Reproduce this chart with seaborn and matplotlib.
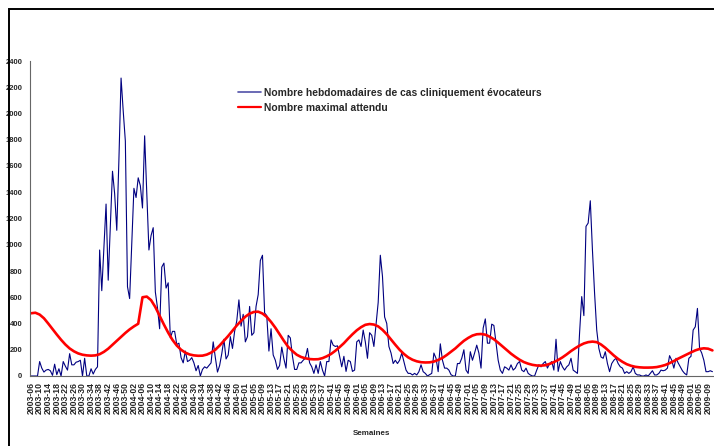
import matplotlib
matplotlib.use("Agg")
import matplotlib.pyplot as plt
from matplotlib.patches import Rectangle
import seaborn as sns
import pandas as pd

# ---- categories: ISO weeks 2003-06 .. 2009-11 ----
year_weeks = [(2003, 6, 52), (2004, 1, 53), (2005, 1, 52), (2006, 1, 52),
              (2007, 1, 52), (2008, 1, 52), (2009, 1, 11)]
weeks = [f"{y}-{w:02d}" for y, a, b in year_weeks for w in range(a, b + 1)]

# ---- weekly clinically suggestive cases ----
cases = [
    0, 0, 0, 0, 110, 60, 30, 45, 50, 40, 5, 90, 10, 55, 0, 110, 75, 45, 170, 85,
    85, 105, 110, 120, 0, 135, 0, 0, 55, 15, 50, 70, 960, 650, 980, 1310, 730, 1150, 1560, 1390,
    1110, 1650, 2270, 2020, 1790, 680, 590, 1000, 1430, 1360, 1510, 1450, 1280, 1830, 1400, 960, 1070, 1130, 640, 520,
    360, 830, 860, 670, 710, 290, 340, 340, 240, 250, 140, 100, 190, 110, 120, 140, 100, 40, 80, 0,
    50, 70, 60, 80, 100, 260, 140, 30, 80, 170, 280, 130, 160, 300, 210, 340, 420, 580, 380, 470,
    260, 300, 530, 310, 330, 530, 620, 880, 920, 480, 460, 190, 360, 160, 120, 50, 80, 220, 130, 60,
    310, 290, 150, 50, 50, 100, 100, 120, 135, 210, 100, 70, 20, 85, 20, 110, 45, 0, 110, 110,
    275, 235, 225, 230, 150, 70, 150, 35, 120, 110, 35, 45, 260, 275, 225, 350, 260, 135, 330, 310,
    225, 390, 560, 920, 760, 450, 400, 225, 175, 95, 120, 95, 120, 175, 110, 45, 20, 20, 8, 20,
    8, 33, 85, 33, 20, 0, 10, 20, 175, 135, 33, 245, 120, 60, 60, 45, 10, 0, 0, 95,
    95, 135, 200, 45, 20, 185, 120, 175, 235, 175, 60, 365, 435, 250, 250, 395, 385, 250, 120, 45,
    20, 70, 60, 45, 85, 45, 60, 95, 110, 45, 33, 60, 20, 8, 0, 0, 45, 85, 70, 95,
    110, 60, 95, 110, 45, 280, 35, 110, 70, 45, 70, 85, 135, 45, 33, 20, 330, 605, 460, 1140,
    1165, 1335, 960, 630, 350, 210, 145, 135, 185, 95, 33, 95, 120, 135, 95, 70, 60, 20, 33, 20,
    33, 70, 20, 8, 8, 0, 0, 8, 0, 20, 40, 8, 8, 20, 45, 40, 45, 60, 155, 120,
    60, 135, 100, 70, 40, 20, 8, 135, 150, 350, 375, 515, 210, 175, 120, 33, 33, 40, 33,
]

# ---- expected maximum (read every second week) ----
expected_max = [
    478, 482, 468, 440, 400, 358, 316, 276, 240, 210, 188, 172, 162, 157, 155, 157, 166, 184, 208, 238,
    268, 298, 328, 355, 378, 398, 600, 605, 578, 525, 458, 392, 330, 275, 232, 200, 178, 164, 157, 154,
    155, 163, 178, 200, 232, 268, 305, 345, 385, 420, 452, 475, 488, 490, 476, 450, 412, 368, 318, 268,
    222, 190, 162, 145, 135, 129, 127, 128, 136, 150, 168, 192, 220, 250, 285, 318, 348, 372, 390, 396,
    392, 378, 352, 318, 278, 238, 200, 168, 142, 124, 112, 105, 103, 104, 110, 122, 138, 160, 185, 210,
    240, 268, 290, 308, 318, 320, 315, 300, 280, 254, 226, 198, 170, 146, 124, 106, 94, 85, 80, 79,
    82, 92, 106, 122, 142, 165, 190, 212, 232, 248, 258, 262, 258, 240, 215, 185, 156, 130, 108, 90,
    78, 70, 66, 64, 64, 65, 68, 75, 84, 98, 114, 132, 148, 164, 180, 195, 206, 211, 208, 195,
]

tick_labels = (
    ["2003-%02d" % w for w in [6, 10, 14, 18, 22, 26, 30, 34, 38, 42, 46, 50]]
    + ["2004-%02d" % w for w in [2, 6, 10, 14, 18, 22, 26, 30, 34, 38, 42, 46, 50]]
    + ["2005-%02d" % w for w in [1, 5, 9, 13, 17, 21, 25, 29, 33, 37, 41, 45, 49]]
    + ["2006-%02d" % w for w in [1, 5, 9, 13, 17, 21, 25, 29, 33, 37, 41, 45, 49]]
    + ["2007-%02d" % w for w in [1, 5, 9, 13, 17, 21, 25, 29, 33, 37, 41, 45, 49]]
    + ["2008-%02d" % w for w in [1, 5, 9, 13, 17, 21, 25, 29, 33, 37, 41, 45, 49]]
    + ["2009-%02d" % w for w in [1, 5, 9]]
)
y_ticks = [0, 200, 400, 600, 800, 1000, 1200, 1400, 1600, 1800, 2000, 2200, 2400]

label_cases = "Nombre hebdomadaires de cas cliniquement évocateurs"
label_max = "Nombre maximal attendu"

assert len(cases) == len(weeks)
assert len(expected_max) == len(weeks[::2])

pos = {w: i for i, w in enumerate(weeks)}
df_cases = pd.DataFrame({"week": weeks, "value": cases})
df_cases["x"] = df_cases["week"].map(pos)
df_max = pd.DataFrame({"week": weeks[::2], "value": expected_max})
df_max["x"] = df_max["week"].map(pos)

sns.set_style("white")
plt.rcParams["font.family"] = ["Liberation Sans", "DejaVu Sans"]
plt.rcParams["font.weight"] = "bold"

W, H = 714, 446
fig = plt.figure(figsize=(W / 100, H / 100), dpi=100)
ax = fig.add_axes([30 / W, 1 - 376 / H, 683.5 / W, 315 / H])

sns.lineplot(data=df_cases, x="x", y="value", ax=ax, color="#000080",
             linewidth=0.8, label=label_cases)
sns.lineplot(data=df_max, x="x", y="value", ax=ax, color="#ff0000",
             linewidth=1.9, label=label_max)

ax.set_xlim(-0.5, len(weeks) - 0.5)
ax.set_ylim(0, 2400)
tick_pos = [pos[t] for t in tick_labels]
ax.set_xticks(tick_pos)
ax.set_xticklabels(tick_labels, rotation=90, fontsize=6.2, fontweight="bold")
ax.set_yticks(y_ticks)
ax.set_yticklabels([str(v) for v in y_ticks], fontsize=5.5, fontweight="bold")
ax.tick_params(axis="both", direction="out", length=2.5, width=0.6, color="#555555", pad=2)
ax.tick_params(axis="y", pad=3)

for s in ["top", "right"]:
    ax.spines[s].set_visible(False)
for s in ["left", "bottom"]:
    ax.spines[s].set_color("#666666")
    ax.spines[s].set_linewidth(0.8)

ax.set_xlabel("Semaines", fontsize=5.8, fontweight="bold", labelpad=11)
ax.set_ylabel("")

leg = ax.legend(loc="upper left", bbox_to_anchor=(238 / W, 1 - 88 / H),
                bbox_transform=fig.transFigure, frameon=False,
                prop={"size": 7.35, "weight": "bold"}, handlelength=2.3,
                handletextpad=0.2, labelspacing=0.45, borderpad=0, borderaxespad=0)
leg.get_lines()[0].set_linewidth(1.2)
leg.get_lines()[0].set_color("#5050a8")
leg.get_lines()[1].set_linewidth(1.6)

frame = Rectangle((9 / W, -0.5), 2.0, 1 - 9 / H + 0.5, transform=fig.transFigure,
                  fill=False, edgecolor="black", linewidth=1.4, clip_on=False)
fig.patches.append(frame)

fig.savefig("out.png", dpi=100)
